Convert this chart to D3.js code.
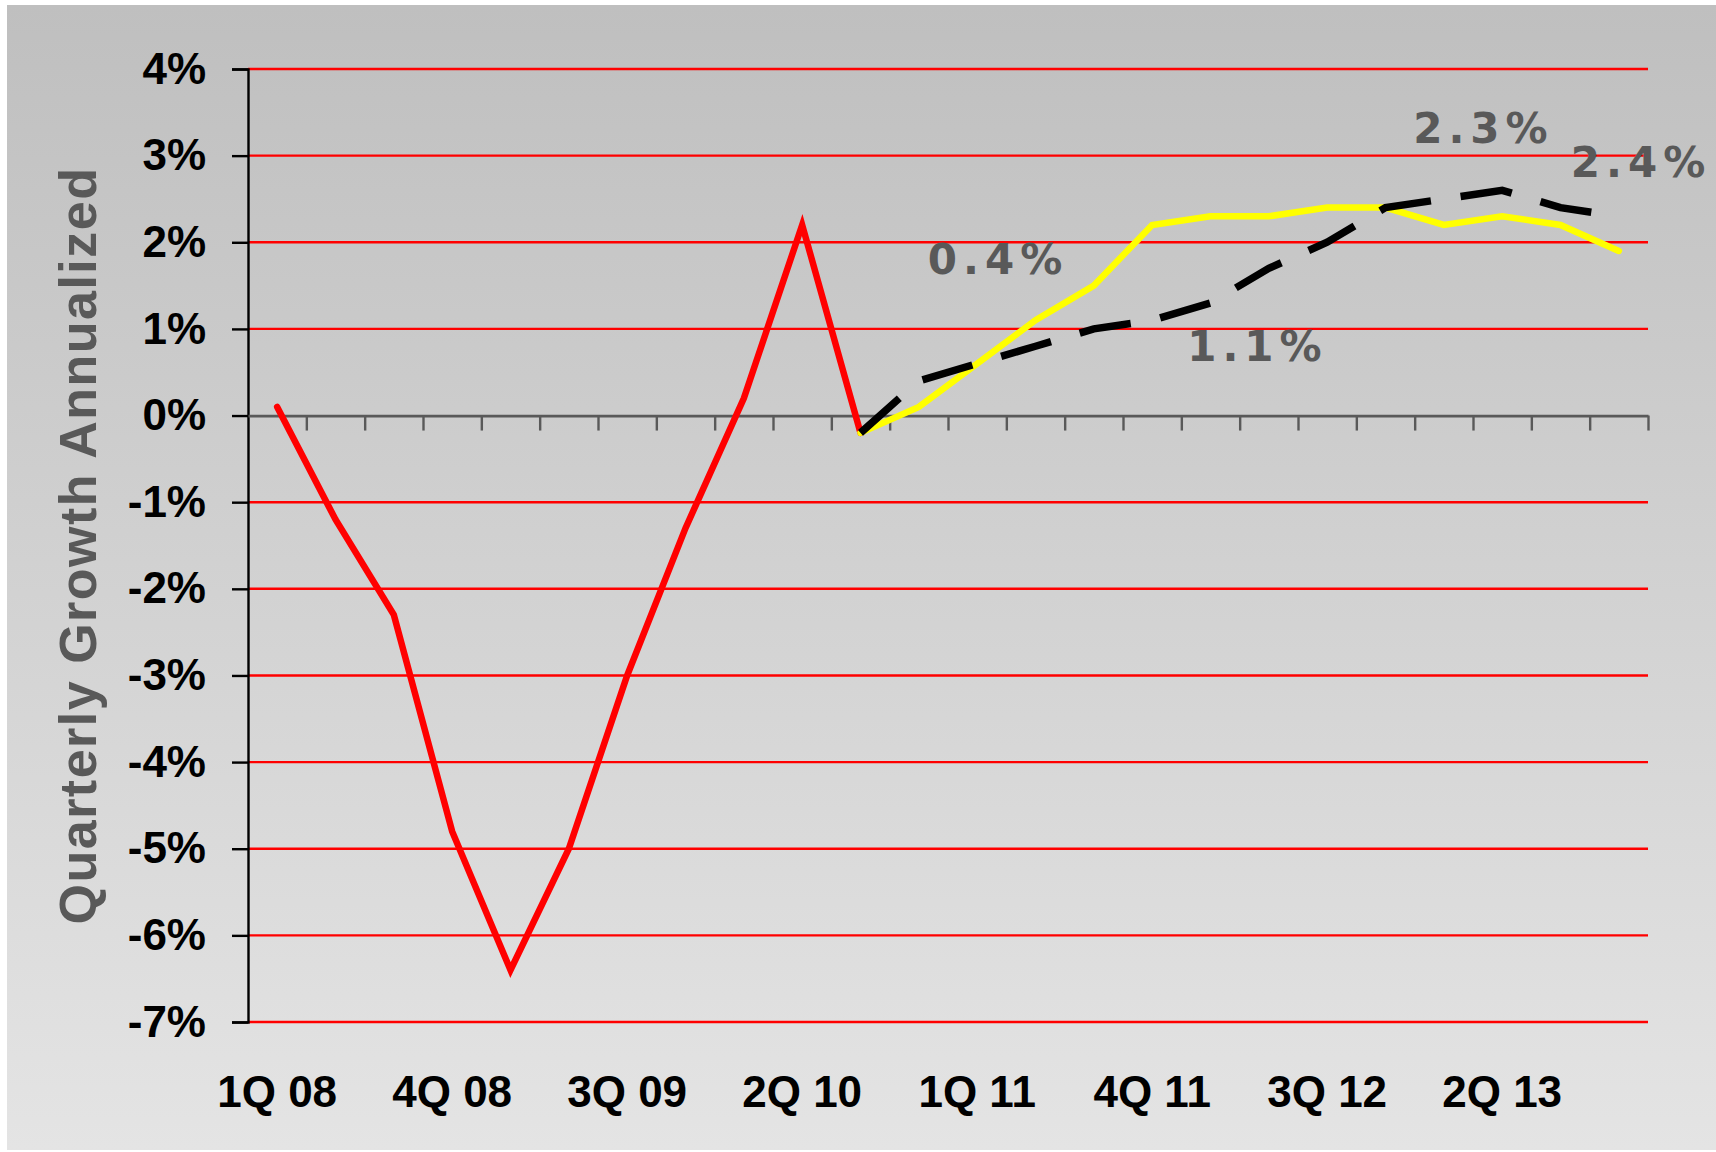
<!DOCTYPE html>
<html>
<head>
<meta charset="utf-8">
<script src="https://cdn.jsdelivr.net/npm/d3@7"></script>
<style>
  body { margin: 0; background: #fff; }
  svg { display: block; font-family: "Liberation Sans", Arial, sans-serif; }
</style>
</head>
<body>
<div id="chart"></div>
<script>
// quarters 1Q 08 .. 4Q 13
const quarters = [
  "1Q 08", "2Q 08", "3Q 08", "4Q 08",
  "1Q 09", "2Q 09", "3Q 09", "4Q 09",
  "1Q 10", "2Q 10", "3Q 10", "4Q 10",
  "1Q 11", "2Q 11", "3Q 11", "4Q 11",
  "1Q 12", "2Q 12", "3Q 12", "4Q 12",
  "1Q 13", "2Q 13", "3Q 13", "4Q 13"
];
const labelQuarters = ["1Q 08", "4Q 08", "3Q 09", "2Q 10", "1Q 11", "4Q 11", "3Q 12", "2Q 13"];

// actual growth (red)
const actual = [0.1, -1.2, -2.3, -4.8, -6.4, -5.0, -3.0, -1.3, 0.2, 2.2, -0.2];
// forecast, yellow line (starts at 3Q 10)
const forecastA = [-0.2, 0.1, 0.6, 1.1, 1.5, 2.2, 2.3, 2.3, 2.4, 2.4, 2.2, 2.3, 2.2, 1.9];
// forecast, black dashed line (starts at 3Q 10)
const forecastB = [-0.2, 0.4, 0.6, 0.8, 1.0, 1.1, 1.3, 1.7, 2.0, 2.4, 2.5, 2.6, 2.4, 2.3];
const forecastStart = 10;

const yTicks = [4, 3, 2, 1, 0, -1, -2, -3, -4, -5, -6, -7];

const annotations = [
  { text: "0.4%", q: "4Q 10", v: 0.4 },
  { text: "1.1%", q: "4Q 11", v: 1.1 },
  { text: "2.3%", q: "2Q 13", v: 2.6 },
  { text: "2.4%", q: "4Q 13", v: 2.3 }
];

const width = 1716, height = 1152;
const margin = { top: 69, right: 68, bottom: 130, left: 248 };

const svg = d3.select("#chart")
  .append("svg")
    .attr("width", width)
    .attr("height", height);

// background gradient
const grad = svg.append("defs").append("linearGradient")
  .attr("id", "bg")
  .attr("x1", 0).attr("y1", 0).attr("x2", 0).attr("y2", 1);
grad.append("stop").attr("offset", "0%").attr("stop-color", "#bfbfbf");
grad.append("stop").attr("offset", "100%").attr("stop-color", "#e4e4e4");

svg.append("rect")
  .attr("x", 7).attr("y", 5)
  .attr("width", width - 7).attr("height", height - 7)
  .attr("fill", "url(#bg)");

const x = d3.scaleBand()
  .domain(quarters)
  .range([margin.left, width - margin.right]);

// boundaries between quarters for the tick marks on the zero line
const xb = d3.scaleLinear()
  .domain([0, quarters.length])
  .range([margin.left, width - margin.right]);

const y = d3.scaleLinear()
  .domain([-7, 4])
  .range([height - margin.bottom, margin.top]);

const cx = q => x(q) + x.bandwidth() / 2;

// red gridlines
svg.append("g")
  .selectAll("line")
  .data(yTicks.filter(d => d !== 0))
  .join("line")
    .attr("x1", margin.left)
    .attr("x2", width - margin.right)
    .attr("y1", d => y(d))
    .attr("y2", d => y(d))
    .attr("stroke", "#ff0000")
    .attr("stroke-width", 2.4);

// y axis
const yAxis = d3.axisLeft(y)
  .tickValues(yTicks)
  .tickSize(16)
  .tickPadding(26)
  .tickFormat(d => `${d}%`);
const yg = svg.append("g")
  .attr("transform", `translate(${margin.left},0)`)
  .call(yAxis);
yg.select(".domain").attr("stroke", "#000").attr("stroke-width", 2.4);
yg.selectAll(".tick line").attr("stroke", "#000").attr("stroke-width", 2.4);
yg.selectAll(".tick text")
  .attr("fill", "#000")
  .attr("font-size", 44)
  .attr("font-weight", "bold")
  .attr("font-family", "'Liberation Sans', Arial, sans-serif");

// zero line with quarter ticks
const zeroAxis = d3.axisBottom(xb)
  .tickValues(d3.range(1, quarters.length + 1))
  .tickSize(15)
  .tickSizeOuter(0)
  .tickFormat("");
const zg = svg.append("g")
  .attr("transform", `translate(0,${y(0)})`)
  .call(zeroAxis);
zg.select(".domain").attr("stroke", "#595959").attr("stroke-width", 2.8);
zg.selectAll(".tick line").attr("stroke", "#595959").attr("stroke-width", 2.4);

// x labels
const xAxis = d3.axisBottom(x)
  .tickValues(labelQuarters)
  .tickSize(0)
  .tickPadding(54);
const xg = svg.append("g")
  .attr("transform", `translate(0,${height - margin.bottom})`)
  .call(xAxis);
xg.select(".domain").remove();
xg.selectAll(".tick text")
  .attr("fill", "#000")
  .attr("font-size", 44)
  .attr("font-weight", "bold")
  .attr("font-family", "'Liberation Sans', Arial, sans-serif");

// y axis title
svg.append("text")
  .attr("transform", `translate(96,${(y(4) + y(-7)) / 2}) rotate(-90)`)
  .attr("text-anchor", "middle")
  .attr("font-size", 52)
  .attr("font-weight", "bold")
  .attr("letter-spacing", 1.5)
  .attr("fill", "#595959")
  .text("Quarterly Growth Annualized");

const line = d3.line()
  .x(d => cx(d.q))
  .y(d => y(d.v));

const actualData = actual.map((v, i) => ({ q: quarters[i], v }));
const aData = forecastA.map((v, i) => ({ q: quarters[forecastStart + i], v }));
const bData = forecastB.map((v, i) => ({ q: quarters[forecastStart + i], v }));

svg.append("path")
  .datum(actualData)
  .attr("d", line)
  .attr("fill", "none")
  .attr("stroke", "#ff0000")
  .attr("stroke-width", 6.5)
  .attr("stroke-linecap", "round");

svg.append("path")
  .datum(aData)
  .attr("d", line)
  .attr("fill", "none")
  .attr("stroke", "#ffff00")
  .attr("stroke-width", 6.5)
  .attr("stroke-linecap", "round");

svg.append("path")
  .datum(bData)
  .attr("d", line)
  .attr("fill", "none")
  .attr("stroke", "#000")
  .attr("stroke-width", 7.5)
  .attr("stroke-dasharray", "52,30");

// value annotations
const annOffset = {
  "0.4%": [9, -107],
  "1.1%": [35, 41],
  "2.3%": [-89, -47],
  "2.4%": [-48, -39]
};
svg.append("g")
  .selectAll("text")
  .data(annotations)
  .join("text")
    .attr("x", d => cx(d.q) + annOffset[d.text][0])
    .attr("y", d => y(d.v) + annOffset[d.text][1])
    .attr("font-family", "'DejaVu Sans', Verdana, sans-serif")
    .attr("font-size", 42)
    .attr("font-weight", "bold")
    .attr("letter-spacing", 6)
    .attr("fill", "#595959")
    .text(d => d.text);
</script>
</body>
</html>
